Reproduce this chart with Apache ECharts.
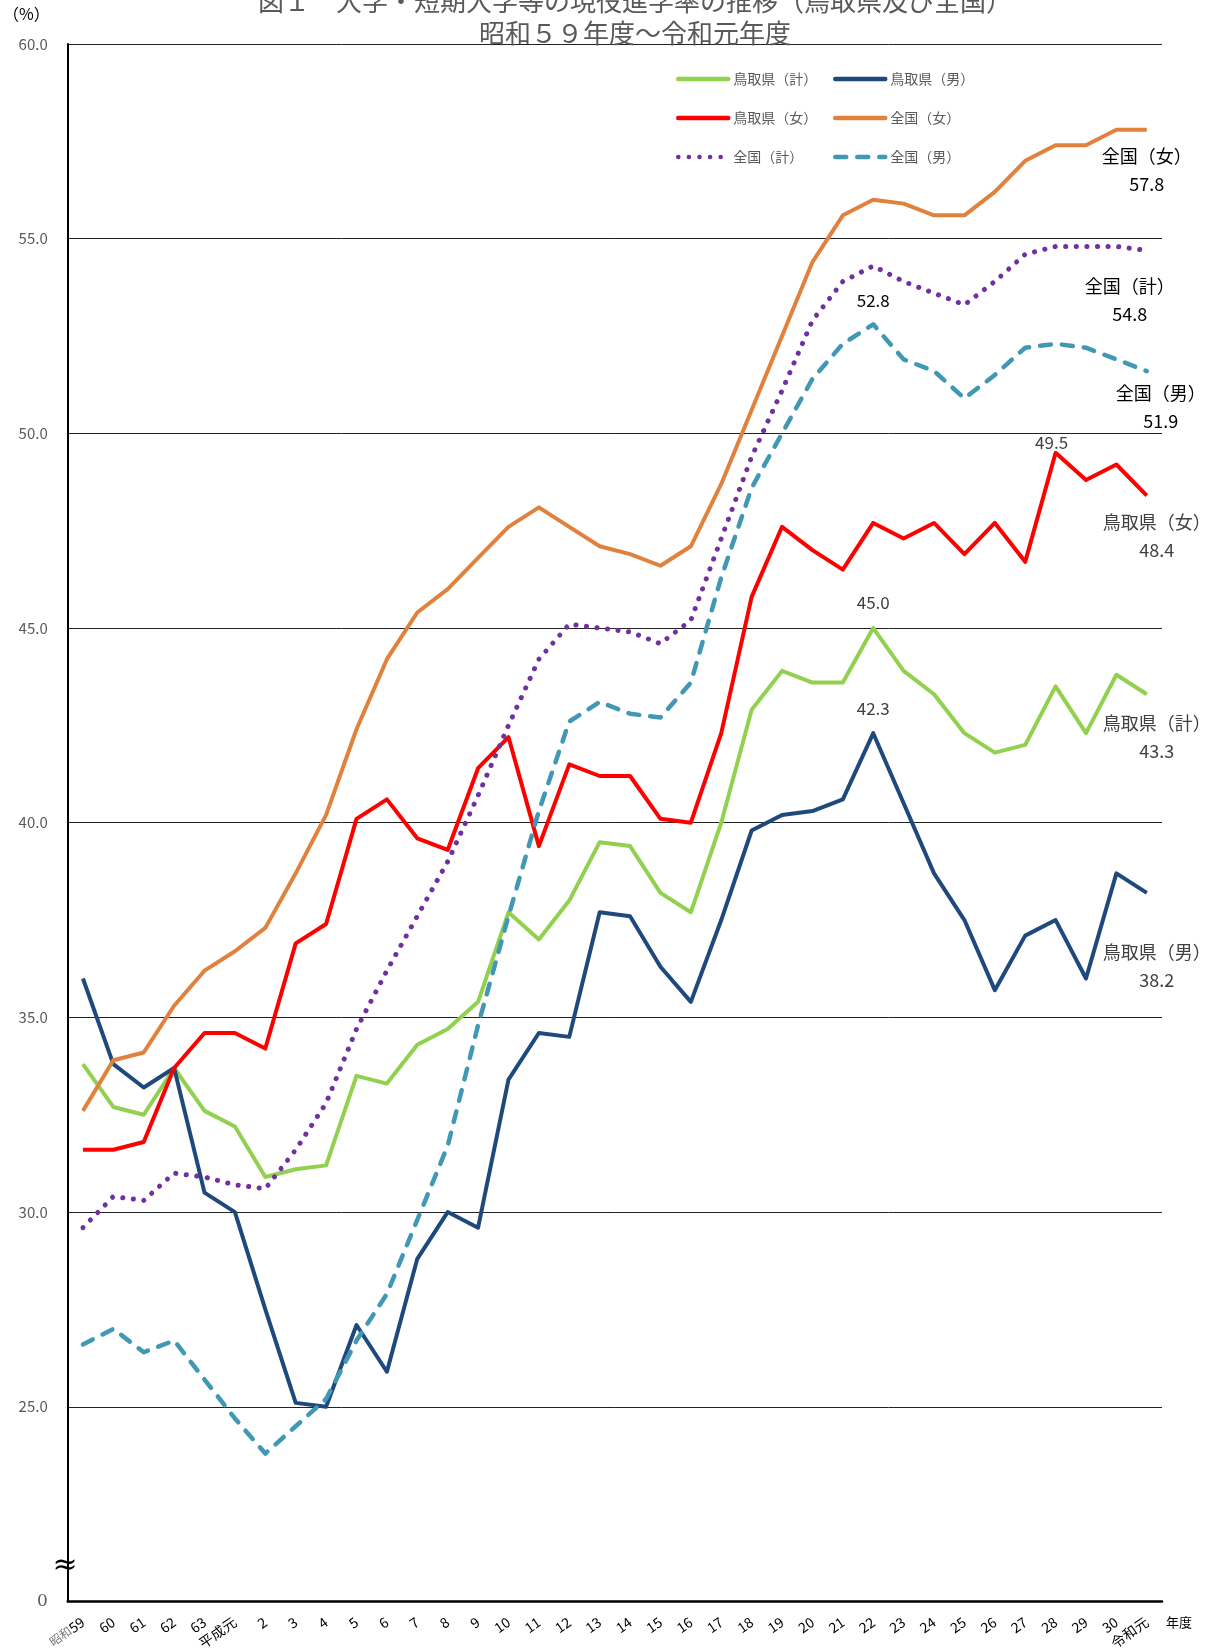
<!DOCTYPE html>
<html><head><meta charset="utf-8">
<script src="https://cdn.jsdelivr.net/npm/echarts@6/dist/echarts.min.js"></script>
<style>html,body{margin:0;padding:0;background:#fff}#c{width:1216px;height:1652px}</style>
</head><body><div id="c"></div>
<script>
// ---- data ----
const categories = ['昭和59','60','61','62','63','平成元','2','3','4','5','6','7','8','9','10','11','12','13','14','15','16','17','18','19','20','21','22','23','24','25','26','27','28','29','30','令和元'];
const tottoriTotal  = [33.8,32.7,32.5,33.7,32.6,32.2,30.9,31.1,31.2,33.5,33.3,34.3,34.7,35.4,37.7,37.0,38.0,39.5,39.4,38.2,37.7,40.0,42.9,43.9,43.6,43.6,45.0,43.9,43.3,42.3,41.8,42.0,43.5,42.3,43.8,43.3];
const tottoriMale   = [36.0,33.8,33.2,33.7,30.5,30.0,27.5,25.1,25.0,27.1,25.9,28.8,30.0,29.6,33.4,34.6,34.5,37.7,37.6,36.3,35.4,37.5,39.8,40.2,40.3,40.6,42.3,40.5,38.7,37.5,35.7,37.1,37.5,36.0,38.7,38.2];
const tottoriFemale = [31.6,31.6,31.8,33.7,34.6,34.6,34.2,36.9,37.4,40.1,40.6,39.6,39.3,41.4,42.2,39.4,41.5,41.2,41.2,40.1,40.0,42.3,45.8,47.6,47.0,46.5,47.7,47.3,47.7,46.9,47.7,46.7,49.5,48.8,49.2,48.4];
const nationalFemale= [32.6,33.9,34.1,35.3,36.2,36.7,37.3,38.7,40.2,42.4,44.2,45.4,46.0,46.8,47.6,48.1,47.6,47.1,46.9,46.6,47.1,48.7,50.6,52.5,54.4,55.6,56.0,55.9,55.6,55.6,56.2,57.0,57.4,57.4,57.8,57.8];
const nationalTotal = [29.6,30.4,30.3,31.0,30.9,30.7,30.6,31.6,32.8,34.7,36.2,37.6,39.0,40.7,42.5,44.2,45.1,45.0,44.9,44.6,45.2,47.3,49.4,51.1,52.9,53.9,54.3,53.9,53.6,53.3,53.9,54.6,54.8,54.8,54.8,54.7];
const nationalMale  = [26.6,27.0,26.4,26.7,25.7,24.7,23.8,24.5,25.2,26.7,27.9,29.8,31.7,34.8,37.6,40.3,42.6,43.1,42.8,42.7,43.6,46.3,48.6,50.0,51.4,52.3,52.8,51.9,51.6,50.9,51.5,52.2,52.3,52.2,51.9,51.6];
const seriesNames = ['鳥取県（計）','鳥取県（男）','鳥取県（女）','全国（女）','全国（計）','全国（男）'];
const endLabelText = ['43.3','38.2','48.4','57.8','54.8','51.9'];
const yTicks = [20,25,30,35,40,45,50,55,60];
const titleLine1 = '図１　大学・短期大学等の現役進学率の推移（鳥取県及び全国）';
const titleLine2 = '昭和５９年度～令和元年度';

// ---- chart ----
const FONT = '"Noto Sans CJK JP","Noto Sans",sans-serif';
const GRID = {left:64, right:54, top:44, bottom:49};
const last = categories.length - 1;
const chart = echarts.init(document.getElementById('c'), null, {renderer:'canvas'});

function endMark(data, i, dx, dy, color) {
  return {
    coord: [categories[last], data[last]],
    symbolSize: 0,
    label: {show:true, position:'inside', offset:[dx,dy], formatter: '{n|' + seriesNames[i] + '}\n{v|' + endLabelText[i] + '}',
      rich: {n:{fontSize:18, color, fontFamily:FONT, lineHeight:28, align:'center'},
             v:{fontSize:18, color, fontFamily:FONT, lineHeight:28, align:'center'}}}
  };
}
function peakMark(data, idx, dx, dy, color) {
  return {
    coord: [categories[idx], data[idx]],
    symbolSize: 0,
    label: {show:true, position:'inside', offset:[dx,dy], formatter: data[idx].toFixed(1), fontSize:17, color, fontFamily:FONT}
  };
}
function mkSeries(i, data, color, ls, marks) {
  return {
    name: seriesNames[i], type:'line', data, symbol:'none', animation:false,
    lineStyle: Object.assign({color, width:4, join:'round'}, ls),
    itemStyle: {color},
    markPoint: {symbol:'circle', symbolSize:0, animation:false, data: marks}
  };
}
const GRAY = '#404040';
const idx22 = categories.indexOf('22'), idx28 = categories.indexOf('28');
const series = [
  mkSeries(0, tottoriTotal, '#92D050', {}, [endMark(tottoriTotal,0,10,43,GRAY), peakMark(tottoriTotal, idx22, 0, -25, GRAY)]),
  mkSeries(1, tottoriMale, '#1F497D', {}, [endMark(tottoriMale,1,10,73,GRAY), peakMark(tottoriMale, idx22, 0, -25, GRAY)]),
  mkSeries(2, tottoriFemale, '#FF0000', {}, [endMark(tottoriFemale,2,10,40,GRAY), peakMark(tottoriFemale, idx28, -4, -10, GRAY)]),
  mkSeries(3, nationalFemale, '#E0823D', {}, [endMark(nationalFemale,3,0,40,'#000')]),
  mkSeries(4, nationalTotal, '#7030A0', {type:[0.1,10.5], cap:'round', width:5}, [endMark(nationalTotal,4,-17,50,'#000')]),
  mkSeries(5, nationalMale, '#4198B5', {type:[11,11], cap:'round', width:4.5}, [endMark(nationalMale,5,14,36,'#000'), peakMark(nationalMale, idx22, 0, -24, '#000')])
];

const legendCommon = {orient:'vertical', top:67, itemWidth:50, itemHeight:14, itemGap:25,
  itemStyle:{color:'rgba(0,0,0,0)', borderColor:'rgba(0,0,0,0)', borderWidth:0, opacity:0},
  lineStyle:{width:4.5, cap:'round'},
  textStyle:{fontSize:14, color:'#595959', fontFamily:FONT}};

chart.setOption({
  backgroundColor:'#fff',
  animation:false,
  title: {text: titleLine1 + '\n' + titleLine2, left:630, top:-20, textAlign:'center',
    textStyle:{fontSize:26, fontWeight:'normal', color:'#595959', lineHeight:32, fontFamily:FONT}},
  legend: [
    Object.assign({left:671, data:[seriesNames[0], seriesNames[2], seriesNames[4]]}, legendCommon),
    Object.assign({left:828, data:[seriesNames[1], seriesNames[3], seriesNames[5]]}, legendCommon)
  ],
  grid: Object.assign({containLabel:false}, GRID),
  xAxis: {
    type:'category', data:categories, boundaryGap:true,
    name:'年度', nameLocation:'end', nameGap:4,
    nameTextStyle:{fontSize:13, color:'#000', fontFamily:FONT, verticalAlign:'top', padding:[14,0,0,0]},
    axisLine:{show:true, lineStyle:{color:'#000', width:2.5}},
    axisTick:{show:false},
    axisLabel:{interval:0, rotate:35, margin:19, fontSize:14, color:'#000', fontFamily:FONT,
      formatter: v => v === categories[0] ? '{s|昭和}' + v.replace('昭和','') : v,
      rich:{s:{fontSize:12, color:'#777', fontFamily:FONT}}},
    splitLine:{show:false}
  },
  yAxis: {
    type:'value', min:yTicks[0], max:yTicks[yTicks.length-1], interval:5,
    name:'（%）', nameLocation:'end', nameGap:22,
    nameTextStyle:{fontSize:16, color:'#000', fontFamily:FONT, align:'right', padding:[0,18,0,0]},
    axisLine:{show:true, lineStyle:{color:'#000', width:2}},
    axisTick:{show:false},
    axisLabel:{margin:20, fontSize:15, color:'#595959', fontFamily:FONT,
      formatter: v => v === yTicks[0] ? '{z|0}' : v.toFixed(1),
      rich:{z:{fontSize:17, color:'#595959', fontFamily:'"DejaVu Serif",serif'}}},
    splitLine:{show:true, lineStyle:{color:'#222', width:1}}
  },
  series
});

const by = chart.convertToPixel({yAxisIndex:0}, 20.9);
chart.setOption({graphic:[{type:'text', x:GRID.left+1, y:by, z:100,
  style:{text:'≈', font:'30px "DejaVu Serif"', fill:'#000', align:'center', verticalAlign:'middle'}}]});
</script></body></html>
